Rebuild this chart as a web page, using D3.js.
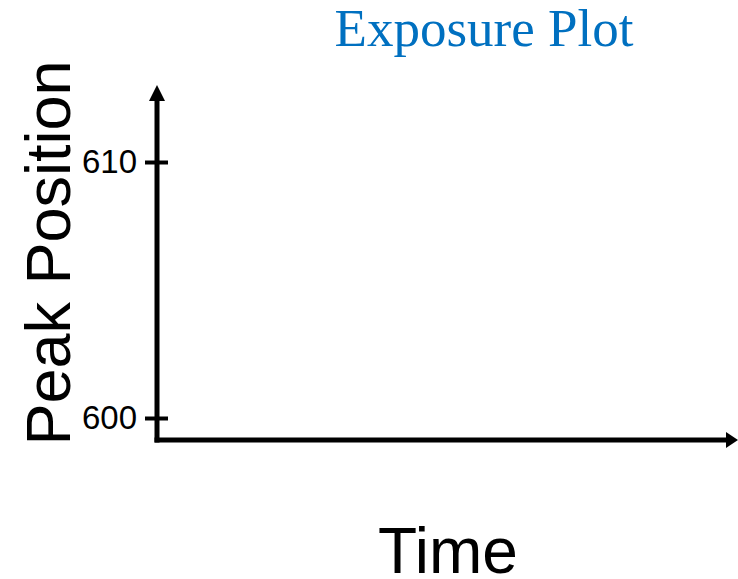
<!DOCTYPE html>
<html>
<head>
<meta charset="utf-8">
<script src="https://cdn.jsdelivr.net/npm/d3@7"></script>
<style>
  html, body { margin: 0; padding: 0; background: #fff; }
  svg { display: block; }
</style>
</head>
<body>
<svg id="chart" width="738" height="579"></svg>
<script>
const titleText = "Exposure Plot";
const xLabel = "Time";
const yLabel = "Peak Position";
const yTickValues = [600, 610];
const yDomain = [600, 610];
const xDomain = [0, 1];

const svg = d3.select("#chart");
const W = 738, H = 579;
const originX = 157, originY = 440;

const y = d3.scaleLinear().domain(yDomain).range([418, 162]);
const x = d3.scaleLinear().domain(xDomain).range([originX, W - 10]);

const axisColor = "#000";
svg.append("line")
  .attr("x1", originX).attr("y1", originY + 2.5)
  .attr("x2", originX).attr("y2", 100)
  .attr("stroke", axisColor).attr("stroke-width", 5);
svg.append("path")
  .attr("d", `M${originX},85 L${originX - 8},101 L${originX + 8},101 Z`)
  .attr("fill", axisColor);

svg.append("line")
  .attr("x1", originX - 2.5).attr("y1", originY)
  .attr("x2", x(1)).attr("y2", originY)
  .attr("stroke", axisColor).attr("stroke-width", 5);
svg.append("path")
  .attr("d", `M${W},${originY} L${x(1) - 2},${originY - 8} L${x(1) - 2},${originY + 8} Z`)
  .attr("fill", axisColor);

const yAxis = d3.axisLeft(y).tickValues(yTickValues).tickSize(0).tickPadding(20).tickFormat(d3.format("d"));
const gy = svg.append("g").attr("transform", `translate(${originX},0)`).call(yAxis);
gy.select(".domain").remove();
gy.selectAll(".tick line")
  .attr("x1", -12).attr("x2", 11)
  .attr("stroke", axisColor).attr("stroke-width", 4);
gy.selectAll(".tick text")
  .attr("font-family", "Liberation Sans, Arial, sans-serif")
  .attr("font-size", 33)
  .attr("fill", "#000");

svg.append("text")
  .attr("x", 484).attr("y", 46)
  .attr("text-anchor", "middle")
  .attr("font-family", "Liberation Serif, Times New Roman, serif")
  .attr("font-size", 53)
  .attr("fill", "#0070C0")
  .text(titleText);

svg.append("text")
  .attr("x", 448).attr("y", 573)
  .attr("text-anchor", "middle")
  .attr("font-family", "Liberation Sans, Arial, sans-serif")
  .attr("font-size", 64)
  .attr("fill", "#000")
  .text(xLabel);

svg.append("text")
  .attr("transform", `translate(70,253) rotate(-90)`)
  .attr("text-anchor", "middle")
  .attr("font-family", "Liberation Sans, Arial, sans-serif")
  .attr("font-size", 63)
  .attr("fill", "#000")
  .text(yLabel);
</script>
</body>
</html>
